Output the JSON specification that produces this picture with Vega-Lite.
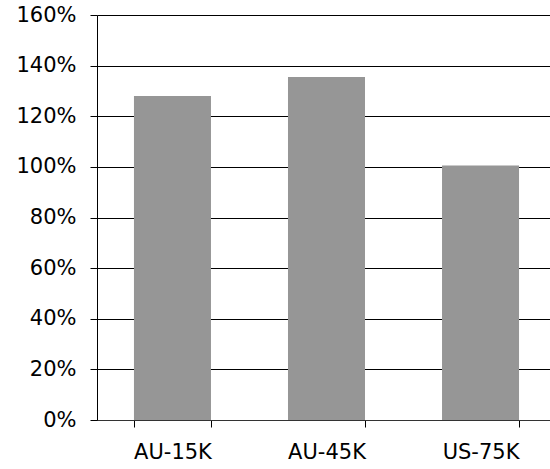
{
  "$schema": "https://vega.github.io/schema/vega-lite/v6.json",
  "autosize": "none",
  "width": 453,
  "height": 405,
  "padding": {"left": 97, "top": 15, "right": 0, "bottom": 49},
  "background": "white",
  "data": {
    "values": [
      {"group": "AU-15K", "value": 1.28},
      {"group": "AU-45K", "value": 1.355},
      {"group": "US-75K", "value": 1.005}
    ]
  },
  "mark": {"type": "bar", "color": "#969696"},
  "encoding": {
    "x": {
      "field": "group",
      "type": "nominal",
      "sort": null,
      "scale": {"range": [0, 459], "paddingInner": 0.5, "paddingOuter": 0.24},
      "axis": {
        "title": null,
        "labelAngle": 0,
        "labelFont": "DejaVu Sans",
        "labelFontSize": 21,
        "labelColor": "black",
        "labelPadding": 14,
        "tickSize": 7,
        "tickColor": "black",
        "tickBand": "extent",
        "domainColor": "#333333",
        "grid": false
      }
    },
    "y": {
      "field": "value",
      "type": "quantitative",
      "scale": {"domain": [0, 1.6], "nice": false},
      "axis": {
        "title": null,
        "values": [0, 0.2, 0.4, 0.6, 0.8, 1.0, 1.2, 1.4, 1.6],
        "format": ".0%",
        "labelFont": "DejaVu Sans",
        "labelFontSize": 21,
        "labelColor": "black",
        "labelPadding": 14,
        "tickSize": 7,
        "tickColor": "black",
        "domainColor": "black",
        "gridColor": "black",
        "gridOpacity": 1,
        "grid": true
      }
    }
  },
  "config": {"view": {"stroke": null}}
}
